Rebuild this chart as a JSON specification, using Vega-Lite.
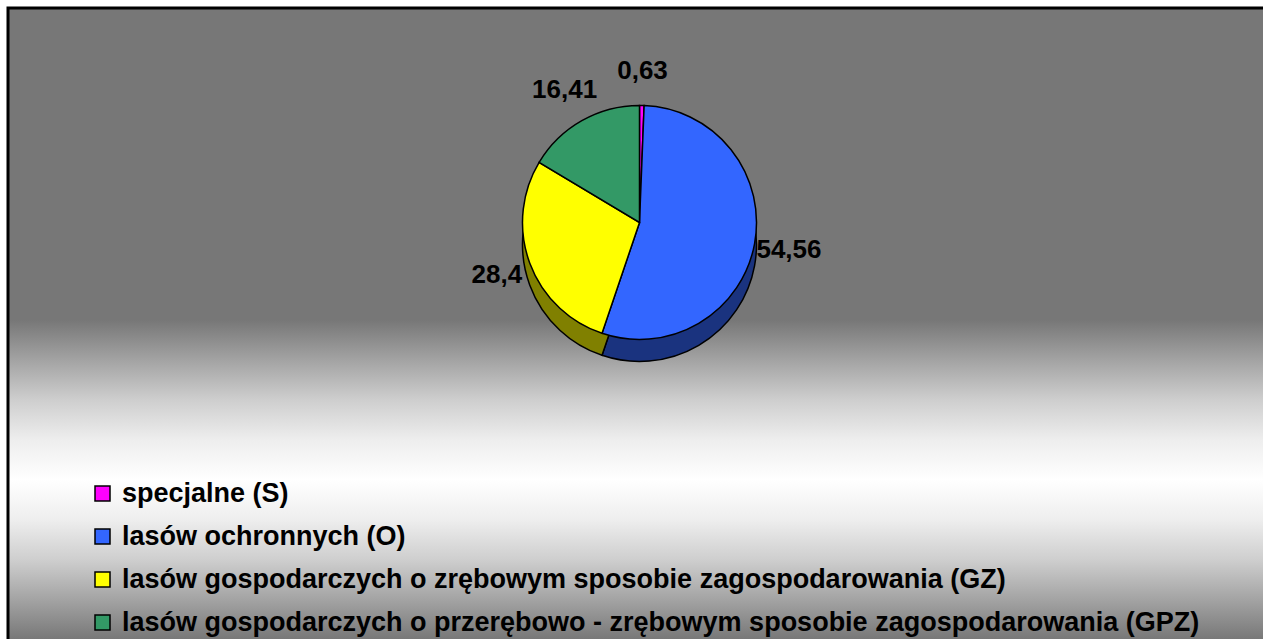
{
  "$schema": "https://vega.github.io/schema/vega-lite/v6.json",
  "autosize": {"type": "none"},
  "width": 1255,
  "height": 631,
  "padding": {"left": 8, "top": 8, "right": 0, "bottom": 0},
  "background": "white",
  "config": {
    "view": {"stroke": null},
    "locale": {"number": {"decimal": ",", "thousands": " ", "grouping": [3], "currency": ["", " zł"]}},
    "legend": {
      "labelFont": "Liberation Sans",
      "labelFontSize": 27,
      "labelFontWeight": "bold",
      "labelColor": "black",
      "labelLimit": 0,
      "symbolType": "square",
      "symbolSize": 225,
      "symbolStrokeColor": "black",
      "symbolStrokeWidth": 1.5,
      "symbolOpacity": 1,
      "rowPadding": 15,
      "labelOffset": 6,
      "padding": 0
    }
  },
  "datasets": {
    "pie": [
      {"category": "specjalne (S)", "order": 1, "value": 0.63},
      {"category": "lasów ochronnych (O)", "order": 2, "value": 54.56},
      {"category": "lasów gospodarczych o zrębowym sposobie zagospodarowania (GZ)", "order": 3, "value": 28.4},
      {"category": "lasów gospodarczych o przerębowo - zrębowym sposobie zagospodarowania (GPZ)", "order": 4, "value": 16.41}
    ]
  },
  "layer": [
    {
      "data": {"values": [{}]},
      "mark": {
        "type": "rect",
        "stroke": "black",
        "strokeWidth": 3,
        "strokeDash": [1255, 1886, 631],
        "fill": {
          "gradient": "linear", "x1": 0, "y1": 0, "x2": 0, "y2": 1,
          "stops": [
            {"offset": 0, "color": "#777777"},
            {"offset": 0.4945, "color": "#777777"},
            {"offset": 0.558, "color": "#a3a3a3"},
            {"offset": 0.621, "color": "#cecece"},
            {"offset": 0.685, "color": "#eeeeee"},
            {"offset": 0.748, "color": "#ffffff"},
            {"offset": 0.811, "color": "#eeeeee"},
            {"offset": 0.875, "color": "#cecece"},
            {"offset": 0.938, "color": "#a3a3a3"},
            {"offset": 1, "color": "#787878"}
          ]
        }
      }
    },
    {
      "data": {"name": "pie"},
      "mark": {"type": "arc", "radius": 117, "xOffset": 4, "yOffset": -79, "stroke": "black", "strokeWidth": 1.5},
      "encoding": {
        "theta": {"field": "value", "type": "quantitative", "stack": true},
        "order": {"field": "order", "type": "quantitative"},
        "color": {
          "field": "category", "type": "nominal", "legend": null,
          "scale": {
            "domain": ["specjalne (S)", "lasów ochronnych (O)", "lasów gospodarczych o zrębowym sposobie zagospodarowania (GZ)", "lasów gospodarczych o przerębowo - zrębowym sposobie zagospodarowania (GPZ)"],
            "range": ["#800080", "#1a337f", "#808000", "#1a4d33"]
          }
        }
      }
    },
    {
      "data": {"name": "pie"},
      "mark": {"type": "arc", "radius": 117, "xOffset": 4, "yOffset": -101, "stroke": "black", "strokeWidth": 1.5},
      "encoding": {
        "theta": {"field": "value", "type": "quantitative", "stack": true},
        "order": {"field": "order", "type": "quantitative"},
        "color": {
          "field": "category", "type": "nominal",
          "scale": {
            "domain": ["specjalne (S)", "lasów ochronnych (O)", "lasów gospodarczych o zrębowym sposobie zagospodarowania (GZ)", "lasów gospodarczych o przerębowo - zrębowym sposobie zagospodarowania (GPZ)"],
            "range": ["#ff00ff", "#3366ff", "#ffff00", "#339966"]
          },
          "legend": {"orient": "none", "legendX": 81, "legendY": 472, "title": null}
        }
      }
    },
    {
      "data": {"name": "pie"},
      "mark": {"type": "text", "radius": 152, "xOffset": 4, "yOffset": -101, "font": "Liberation Sans", "fontSize": 26, "fontWeight": "bold", "color": "black"},
      "encoding": {
        "theta": {"field": "value", "type": "quantitative", "stack": true},
        "order": {"field": "order", "type": "quantitative"},
        "text": {"field": "value", "type": "quantitative", "format": ".2~f"}
      }
    }
  ],
  "resolve": {"scale": {"color": "independent"}}
}
